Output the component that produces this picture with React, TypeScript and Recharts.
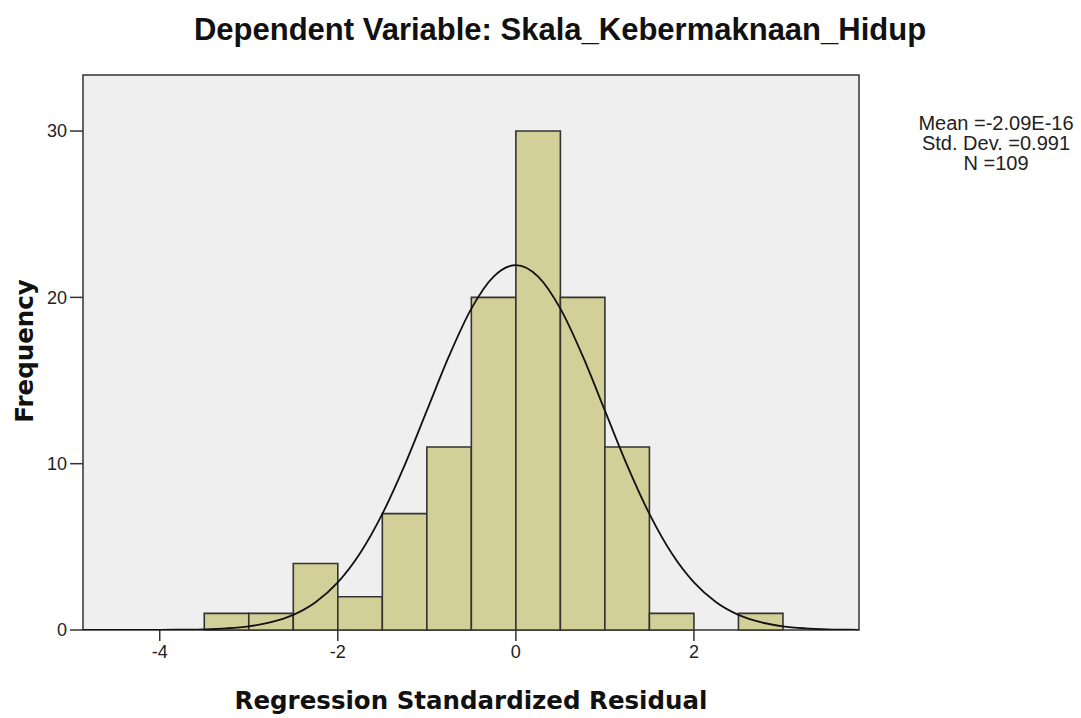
import React from "react";
import { ComposedChart, Line, XAxis, YAxis, ReferenceArea } from "recharts";

// histogram bins (regression standardized residual)
const binStart = [-3.5, -3, -2.5, -2, -1.5, -1, -0.5, 0, 0.5, 1, 1.5, 2, 2.5];
const binEnd = [-3, -2.5, -2, -1.5, -1, -0.5, 0, 0.5, 1, 1.5, 2, 2.5, 3];
const binCount = [1, 1, 4, 2, 7, 11, 20, 30, 20, 11, 1, 0, 1];

// normal curve
const curveX = [
  -4.86, -4.5, -4.25, -4, -3.75, -3.5, -3.25, -3, -2.75, -2.5, -2.25, -2, -1.75, -1.5, -1.25, -1, -0.75,
  -0.5, -0.25, 0, 0.25, 0.5, 0.75, 1, 1.25, 1.5, 1.75, 2, 2.25, 2.5, 2.75, 3, 3.25, 3.5, 3.75, 3.85,
];
const curveY = [
  0, 0, 0, 0.01, 0.02, 0.04, 0.1, 0.22, 0.47, 0.91, 1.67, 2.86, 4.61, 6.98, 9.9, 13.19, 16.48, 19.32,
  21.25, 21.94, 21.25, 19.32, 16.48, 13.19, 9.9, 6.98, 4.61, 2.86, 1.67, 0.91, 0.47, 0.22, 0.1, 0.04,
  0.02, 0.01,
];

const xTicks = [-4, -2, 0, 2];
const yTicks = [0, 10, 20, 30];
const statLines = ["Mean =-2.09E-16", "Std. Dev. =0.991", "N =109"];

const X_MIN = -4.862;
const X_MAX = 3.854;
const Y_MAX = 33.37;

const W = 1081;
const H = 718;
const Y_AXIS_W = 60;
const X_AXIS_H = 40;

export default function App() {
  const data = curveX.map((x, i) => ({ x, y: curveY[i] }));
  const bins = binCount
    .map((count, i) => ({ x1: binStart[i], x2: binEnd[i], count }))
    .filter((b) => b.count > 0);

  const tickStyle = { fill: "#222", fontSize: 18, fontFamily: "'Liberation Sans', Arial, sans-serif" };
  const labelFont = "'DejaVu Sans', Verdana, sans-serif";

  return (
    <div style={{ position: "absolute", left: 0, top: 0, width: W, height: H, background: "#fff" }}>
      <ComposedChart
        width={W}
        height={H}
        data={data}
        margin={{ top: 75, right: 222, bottom: 88 - X_AXIS_H, left: 83 - Y_AXIS_W }}
      >
        <XAxis
          dataKey="x"
          type="number"
          domain={[X_MIN, X_MAX]}
          ticks={xTicks}
          allowDataOverflow
          axisLine={false}
          tickLine={{ stroke: "#333", strokeWidth: 1.5 }}
          tickSize={11}
          tickMargin={4}
          tick={tickStyle}
          height={X_AXIS_H}
        />
        <YAxis
          type="number"
          domain={[0, Y_MAX]}
          ticks={yTicks}
          allowDataOverflow
          axisLine={false}
          tickLine={{ stroke: "#333", strokeWidth: 1.5 }}
          tickSize={13}
          tickMargin={3}
          tick={tickStyle}
          width={Y_AXIS_W}
        />
        {/* plot background + frame */}
        <ReferenceArea
          x1={X_MIN}
          x2={X_MAX}
          y1={0}
          y2={Y_MAX}
          fill="#efefef"
          fillOpacity={1}
          stroke="#333"
          strokeWidth={1.5}
          ifOverflow="visible"
        />
        {bins.map((b, i) => (
          <ReferenceArea
            key={i}
            x1={b.x1}
            x2={b.x2}
            y1={0}
            y2={b.count}
            fill="#d3cf98"
            fillOpacity={1}
            stroke="#333"
            strokeWidth={1.6}
            ifOverflow="visible"
          />
        ))}
        <Line
          dataKey="y"
          type="monotone"
          stroke="#111"
          strokeWidth={1.8}
          dot={false}
          activeDot={false}
          isAnimationActive={false}
        />
      </ComposedChart>

      {/* titles and stats overlaid */}
      <svg width={W} height={H} style={{ position: "absolute", left: 0, top: 0, pointerEvents: "none" }}>
        <text
          x={560}
          y={40}
          textAnchor="middle"
          fontFamily="'Liberation Sans', Arial, sans-serif"
          fontWeight="bold"
          fontSize={31}
          fill="#111"
        >
          Dependent Variable: Skala_Kebermaknaan_Hidup
        </text>
        {statLines.map((s, i) => (
          <text
            key={s}
            x={996}
            y={130 + i * 20}
            textAnchor="middle"
            fontFamily="'Liberation Sans', Arial, sans-serif"
            fontSize={20}
            fill="#222"
          >
            {s}
          </text>
        ))}
        <text x={471} y={709} textAnchor="middle" fontFamily={labelFont} fontWeight="bold" fontSize={24.5} fill="#111">
          Regression Standardized Residual
        </text>
        <text
          x={0}
          y={0}
          transform="translate(33 351) rotate(-90)"
          textAnchor="middle"
          fontFamily={labelFont}
          fontWeight="bold"
          fontSize={24.5}
          fill="#111"
        >
          Frequency
        </text>
      </svg>
    </div>
  );
}
